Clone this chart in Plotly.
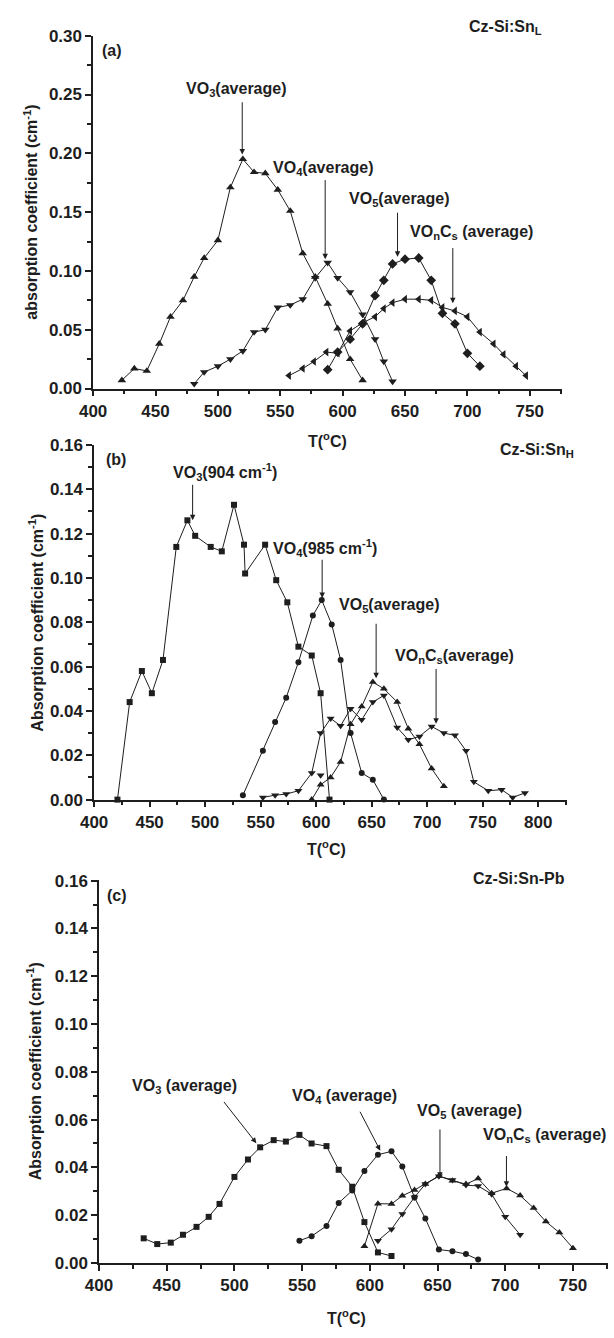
import plotly.graph_objects as go

# ---------------- data ----------------
# Panel (a) Cz-Si:Sn_L
a_vo3_T = [423, 433, 443, 453, 462, 472, 481, 489, 500, 510, 520, 529, 538, 548, 558, 568, 578, 588, 596, 606, 616]
a_vo3_A = [0.007, 0.017, 0.015, 0.038, 0.061, 0.075, 0.095, 0.111, 0.126, 0.171, 0.195, 0.184, 0.183, 0.169, 0.151,
           0.115, 0.095, 0.072, 0.051, 0.025, 0.007]
a_vo4_T = [481, 489, 500, 510, 520, 529, 538, 548, 558, 568, 578, 588, 596, 606, 616, 626, 633, 640]
a_vo4_A = [0.004, 0.014, 0.019, 0.025, 0.032, 0.048, 0.050, 0.069, 0.071, 0.076, 0.094, 0.107, 0.094, 0.082, 0.063,
           0.042, 0.023, 0.006]
a_vo5_T = [588, 596, 606, 616, 626, 633, 640, 650, 661, 671, 680, 690, 700, 710]
a_vo5_A = [0.016, 0.031, 0.042, 0.055, 0.079, 0.092, 0.106, 0.110, 0.111, 0.092, 0.064, 0.055, 0.030, 0.019]
a_voncs_T = [557, 568, 577, 587, 596, 606, 616, 626, 633, 640, 650, 661, 671, 680, 690, 700, 710, 721, 729, 739, 747]
a_voncs_A = [0.011, 0.017, 0.023, 0.031, 0.030, 0.049, 0.056, 0.061, 0.068, 0.073, 0.076, 0.076, 0.075, 0.069, 0.066,
             0.061, 0.048, 0.038, 0.029, 0.019, 0.011]

# Panel (b) Cz-Si:Sn_H
b_vo3_T = [421, 432, 443, 452, 462, 474, 484, 491, 505, 515, 526, 535, 536, 554, 564, 574, 584, 596, 604, 612]
b_vo3_A = [0.0, 0.044, 0.058, 0.048, 0.063, 0.114, 0.126, 0.119, 0.114, 0.112, 0.133, 0.115, 0.102, 0.115, 0.099,
           0.089, 0.069, 0.065, 0.048, 0.0]
b_vo4_T = [534, 552, 563, 573, 584, 597, 605, 614, 622, 631, 641, 651, 661]
b_vo4_A = [0.002, 0.022, 0.035, 0.046, 0.062, 0.083, 0.090, 0.079, 0.063, 0.030, 0.012, 0.009, 0.0]
b_vo5_T = [596, 604, 613, 622, 631, 641, 651, 661, 673, 683, 693, 704, 715]
b_vo5_A = [0.0, 0.0067, 0.010, 0.017, 0.034, 0.042, 0.053, 0.050, 0.044, 0.032, 0.025, 0.014, 0.006]
b_voncs_T = [552, 563, 573, 584, 596, 604, 613, 622, 631, 641, 651, 661, 673, 683, 693, 704, 715, 725, 735, 742,
             755, 767, 777, 788]
b_voncs_A = [0.001, 0.002, 0.0025, 0.004, 0.012, 0.030, 0.0366, 0.0333, 0.041, 0.036, 0.044, 0.047, 0.0325, 0.027,
             0.0285, 0.033, 0.030, 0.029, 0.022, 0.008, 0.004, 0.0045, 0.001, 0.003]
b_stray_T = [604]
b_stray_A = [0.011]

# Panel (c) Cz-Si:Sn-Pb
c_vo3_T = [433, 443, 453, 462, 472, 481, 489, 500, 510, 519, 529, 538, 548, 557, 568, 577, 587, 596, 606, 616]
c_vo3_A = [0.0103, 0.0079, 0.0085, 0.0118, 0.0151, 0.0193, 0.0247, 0.036, 0.0433, 0.0484, 0.0514, 0.0508, 0.0536,
           0.050, 0.0489, 0.039, 0.0319, 0.0171, 0.0044, 0.0029]
c_vo4_T = [548, 557, 568, 577, 587, 596, 606, 616, 624, 633, 641, 651, 661, 671, 680]
c_vo4_A = [0.0093, 0.0112, 0.0155, 0.0251, 0.0303, 0.0385, 0.0453, 0.0467, 0.0404, 0.0274, 0.0186, 0.0056, 0.0049,
           0.0037, 0.0014]
c_vo5_T = [606, 616, 624, 633, 641, 651, 661, 671, 680, 690, 700, 711]
c_vo5_A = [0.0093, 0.0141, 0.0205, 0.0275, 0.033, 0.0363, 0.0347, 0.0326, 0.0322, 0.0288, 0.0193, 0.0118]
c_voncs_T = [596, 606, 616, 624, 633, 641, 651, 661, 671, 680, 690, 701, 711, 721, 730, 740, 750]
c_voncs_A = [0.007, 0.0248, 0.0247, 0.0281, 0.0305, 0.033, 0.0364, 0.0344, 0.033, 0.0353, 0.0292, 0.0312, 0.0282,
             0.023, 0.0173, 0.0127, 0.0062]

# labels: (text, x, y, anchor) in data coords ; arrows: (tip_x, tip_y, tail_x, tail_y)
a_labels = [("VO<sub>3</sub>(average)", 514.8, 0.254, "center"), ("VO<sub>4</sub>(average)", 584.4, 0.187, "center"),
            ("VO<sub>5</sub>(average)", 645.3, 0.161, "center"),
            ("VO<sub>n</sub>C<sub>s</sub> (average)", 703, 0.1324, "center")]
a_arrows = [(519.5, 0.199, 519.5, 0.2447), (586, 0.110, 586, 0.1785),
            (644, 0.112, 644, 0.1508), (688.3, 0.0725, 688.3, 0.1207)]
b_labels = [("VO<sub>3</sub>(904 cm<sup>-1</sup>)", 517.6, 0.1476, "center"),
            ("VO<sub>4</sub>(985 cm<sup>-1</sup>)", 608, 0.1133, "center"),
            ("VO<sub>5</sub>(average)", 666, 0.0876, "center"),
            ("VO<sub>n</sub>C<sub>s</sub>(average)", 724.8, 0.0644, "center")]
b_arrows = [(488.7, 0.126, 488.7, 0.1427), (605.4, 0.091, 605.4, 0.1089),
            (654, 0.0547, 654, 0.080), (708, 0.0342, 708, 0.0596)]
c_labels = [("VO<sub>3</sub> (average)", 463.4, 0.0738, "center"), ("VO<sub>4</sub> (average)", 581.4, 0.0697, "center"),
            ("VO<sub>5</sub> (average)", 673.6, 0.0635, "center"),
            ("VO<sub>n</sub>C<sub>s</sub> (average)", 775.7, 0.0532, "right")]
c_arrows = [(516.2, 0.0501, 491.4, 0.068), (607.7, 0.047, 592.2, 0.0639),
            (651.8, 0.0357, 651.8, 0.0565), (700.9, 0.0319, 700.9, 0.0454)]

W, H = 614, 1338
FONT = "Liberation Sans, Arial, Helvetica, sans-serif"
INK = "#1e1e1e"

fig = go.Figure()


def add(xs, ys, sym, size, ax, mode="lines+markers"):
    fig.add_trace(go.Scatter(x=xs, y=ys, mode=mode, xaxis=ax[0], yaxis=ax[1], cliponaxis=False,
                             line=dict(color=INK, width=1),
                             marker=dict(symbol=sym, size=size, color=INK, line=dict(width=0)),
                             showlegend=False, hoverinfo="skip"))


A = ("x", "y"); B = ("x2", "y2"); C = ("x3", "y3")
add(a_vo3_T, a_vo3_A, "triangle-up", 7.5, A)
add(a_vo4_T, a_vo4_A, "triangle-down", 7.5, A)
add(a_vo5_T, a_vo5_A, "diamond", 7.5, A)
add(a_voncs_T, a_voncs_A, "triangle-left", 7.5, A)
add(b_vo3_T, b_vo3_A, "square", 6, B)
add(b_vo4_T, b_vo4_A, "circle", 6, B)
add(b_vo5_T, b_vo5_A, "triangle-up", 7, B)
add(b_voncs_T, b_voncs_A, "triangle-down", 7, B)
add(b_stray_T, b_stray_A, "triangle-down", 7, B, mode="markers")
add(c_vo3_T, c_vo3_A, "square", 6, C)
add(c_vo4_T, c_vo4_A, "circle", 6, C)
add(c_vo5_T, c_vo5_A, "triangle-down", 7, C)
add(c_voncs_T, c_voncs_A, "triangle-up", 7, C)

TICKFONT = dict(family=FONT, size=17, color=INK, weight="bold")


def xax(dom, rng, dt):
    return dict(domain=dom, range=rng, dtick=dt, tick0=400, ticks="outside", ticklen=6, tickwidth=1.5,
                tickcolor=INK, showline=True, linecolor=INK, linewidth=1.5, showgrid=False, zeroline=False,
                tickfont=TICKFONT,
                minor=dict(ticks="outside", ticklen=4, tickwidth=1.5, tickcolor=INK, dtick=dt / 2, showgrid=False))


def yax(dom, rng, dt, anchor):
    return dict(domain=dom, range=rng, dtick=dt, tick0=0, ticks="outside", ticklen=6, tickwidth=1.5,
                tickcolor=INK, showline=True, linecolor=INK, linewidth=1.5, showgrid=False, zeroline=False,
                tickformat=".2f", anchor=anchor, tickfont=TICKFONT,
                minor=dict(ticks="outside", ticklen=4, tickwidth=1.5, tickcolor=INK, dtick=dt / 2, showgrid=False))


def px(v):
    return v / W


def py(v):
    return 1 - v / H


fig.update_layout(
    width=W, height=H, margin=dict(l=0, r=0, t=0, b=0),
    paper_bgcolor="white", plot_bgcolor="white",
    xaxis=dict(**xax([px(81), px(561)], [400, 776], 50), anchor="y"),
    yaxis=yax([py(385), py(27)], [0, 0.3001], 0.05, "x"),
    xaxis2=dict(**xax([px(82), px(566)], [400, 826], 50), anchor="y2"),
    yaxis2=yax([py(802), py(442)], [0, 0.1601], 0.02, "x2"),
    xaxis3=dict(**xax([px(87), px(608)], [400, 776], 50), anchor="y3"),
    yaxis3=yax([py(1272), py(884)], [0, 0.1601], 0.02, "x3"),
)

ann = []
tf = dict(family=FONT, size=16, color=INK, weight="bold")


def put_labels(labels, arrows, xr, yr):
    for t, x, y, anc in labels:
        ann.append(dict(text=t, x=x, y=y, xref=xr, yref=yr, showarrow=False, font=tf,
                        xanchor=anc, yanchor="middle"))
    for tx, ty, sx, sy in arrows:
        ann.append(dict(text="", x=tx, y=ty, ax=sx, ay=sy, xref=xr, yref=yr, axref=xr, ayref=yr,
                        showarrow=True, arrowhead=2, arrowsize=1.1, arrowwidth=1, arrowcolor=INK))


put_labels(a_labels, a_arrows, "x", "y")
put_labels(b_labels, b_arrows, "x2", "y2")
put_labels(c_labels, c_arrows, "x3", "y3")

# panel tags (data coords) and sample names (paper coords, pixel positions)
for t, x, y, xr, yr in [("(a)", 405.5, 0.2874, "x", "y"), ("(b)", 408.8, 0.1533, "x2", "y2"),
                        ("(c)", 404.3, 0.1538, "x3", "y3")]:
    ann.append(dict(text=t, x=x, y=y, xref=xr, yref=yr, showarrow=False, font=tf, xanchor="left", yanchor="middle"))
for t, x, y in [("Cz-Si:Sn<sub>L</sub>", 464, 19), ("Cz-Si:Sn<sub>H</sub>", 495, 448),
                ("Cz-Si:Sn-Pb", 468, 882)]:
    ann.append(dict(text=t, x=px(x), y=py(y), xref="paper", yref="paper", showarrow=False,
                    font=dict(family=FONT, size=16, color=INK, weight="bold"), xanchor="left", yanchor="middle"))

# axis titles
for t, x, y in [("absorption coefficient (cm<sup>-1</sup>)", 17, 206),
                ("Absorption coefficient (cm<sup>-1</sup>)", 23, 622),
                ("Absorption coefficient (cm<sup>-1</sup>)", 20, 1078)]:
    ann.append(dict(text=t, x=px(x), y=py(y), xref="paper", yref="paper", showarrow=False, textangle=-90,
                    font=tf, xanchor="center", yanchor="middle"))
for x, y in [(321, 437), (320, 851), (340, 1327)]:
    ann.append(dict(text="T(<sup>o</sup>C)", x=px(x), y=py(y), xref="paper", yref="paper", showarrow=False,
                    font=tf, xanchor="center", yanchor="middle"))

fig.update_layout(annotations=ann)
fig.write_html("out.html", config={"displayModeBar": False},
               post_script="document.body.style.margin='0';document.body.style.overflow='hidden';")
